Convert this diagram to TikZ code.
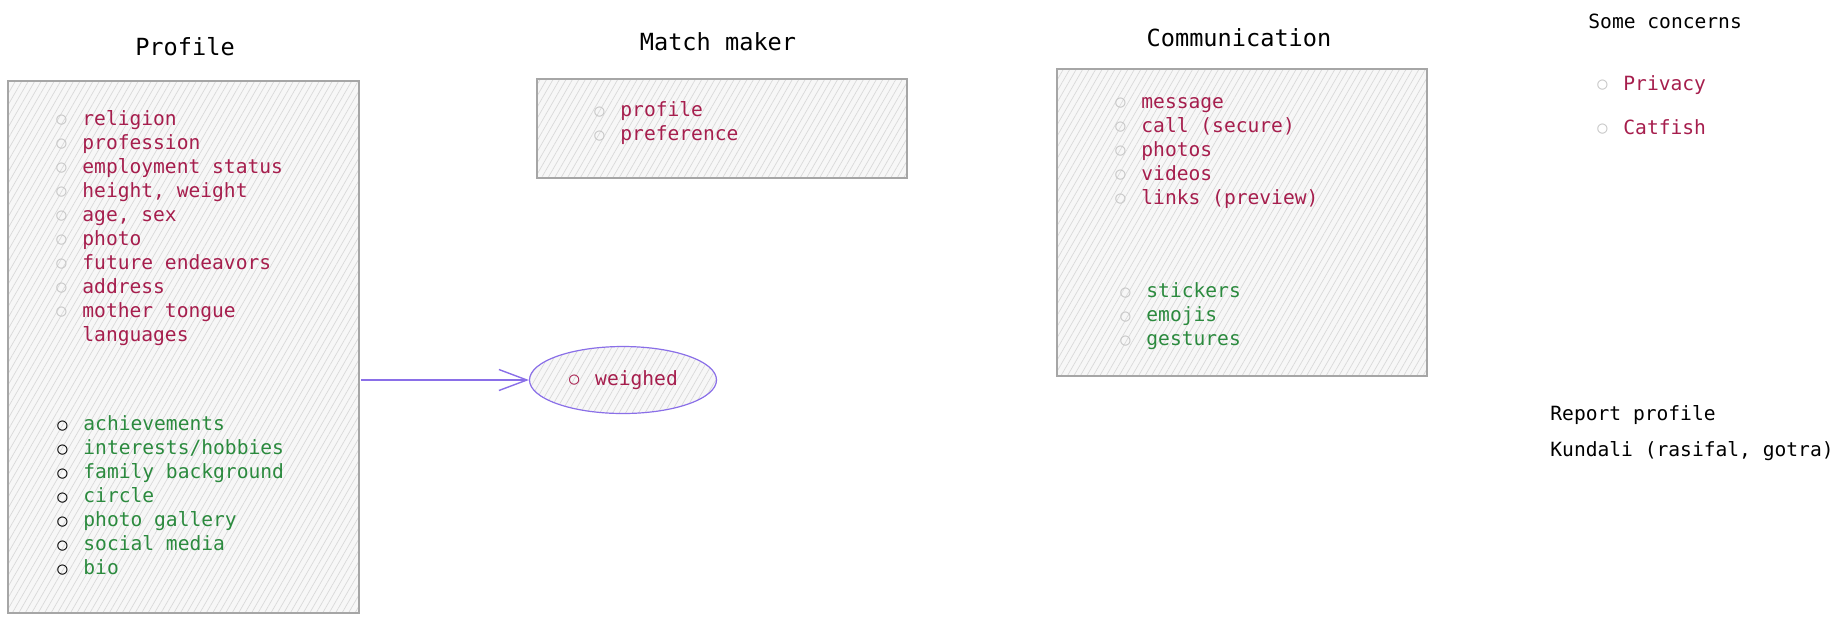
\documentclass[tikz,border=0pt]{standalone}
\usepackage{fontspec}
\setmonofont{DejaVu Sans Mono}
\usepackage{xcolor}
\usepackage{tikz}
\usetikzlibrary{shapes,arrows.meta,positioning,patterns.meta}

\definecolor{crimson}{HTML}{A61E4D}
\definecolor{leafgreen}{HTML}{2B8A3E}
\definecolor{sketchviolet}{HTML}{8A6FE8}

% hand-drawn list bullet
\newcommand{\dotbul}[1]{\makebox[6pt][c]{\raisebox{0.3pt}{\textcolor{#1}{\fontsize{8.5}{8.5}\selectfont ○}}}\hspace{7.5pt}}

\begin{document}
\begin{tikzpicture}[
  x=0.5pt, y=-0.5pt,
  box/.style={rectangle, draw=gray!70, line width=0.6pt, inner sep=0pt,
              preaction={fill=gray!6},
              pattern={Lines[angle=60,distance=2.8pt,line width=0.35pt]},
              pattern color=gray!30},
  title/.style={font=\ttfamily\fontsize{11.8}{14}\selectfont},
  items/.style={font=\ttfamily\fontsize{9.8}{12}\selectfont, align=left,
                inner sep=0pt, anchor=west},
  arr/.style={-{Straight Barb[length=14pt,width=10.5pt]}, draw=sketchviolet,
              line width=0.7pt}
]
\useasboundingbox (0,0) rectangle (1841,623);

\node[title] (profiletitle) at (185,47)  {Profile};
\node[title] (matchtitle)   at (718,42)  {Match maker};
\node[title] (commtitle)    at (1239,38) {Communication};

\node[box, minimum width=175.5pt, minimum height=266pt]  (profilebox) at (183.5,347) {};
\node[box, minimum width=185pt,   minimum height=49.5pt] (matchbox)   at (722,128.5) {};
\node[box, minimum width=185pt,   minimum height=153.5pt] (commbox)   at (1242,222.5) {};

\node[items, text=crimson] (profilebasics) at (55,228) {
  \dotbul{gray!45}religion\\
  \dotbul{gray!45}profession\\
  \dotbul{gray!45}employment status\\
  \dotbul{gray!45}height, weight\\
  \dotbul{gray!45}age, sex\\
  \dotbul{gray!45}photo\\
  \dotbul{gray!45}future endeavors\\
  \dotbul{gray!45}address\\
  \dotbul{gray!45}mother tongue\\
  \hspace*{13.5pt}languages
};
\node[items, text=leafgreen] (profileextras) at (56,495.5) {
  \dotbul{black}achievements\\
  \dotbul{black}interests/hobbies\\
  \dotbul{black}family background\\
  \dotbul{black}circle\\
  \dotbul{black}photo gallery\\
  \dotbul{black}social media\\
  \dotbul{black}bio
};

\node[items, text=crimson] (matchitems) at (593,123.5) {
  \dotbul{gray!45}profile\\
  \dotbul{gray!45}preference
};

\node[items, text=crimson] (commmedia) at (1114,153) {
  \dotbul{gray!45}message\\
  \dotbul{gray!45}call (secure)\\
  \dotbul{gray!45}photos\\
  \dotbul{gray!45}videos\\
  \dotbul{gray!45}links (preview)
};
\node[items, text=leafgreen] (commfun) at (1119,316.5) {
  \dotbul{gray!45}stickers\\
  \dotbul{gray!45}emojis\\
  \dotbul{gray!45}gestures
};

\node[items] (concerns) at (1588,21) {Some concerns};
\node[items, text=crimson] (privacy) at (1596,85)  {\dotbul{gray!45}Privacy};
\node[items, text=crimson] (catfish) at (1596,127) {\dotbul{gray!45}Catfish};

\node[items] (report)  at (1550,415) {Report profile};
\node[items] (kundali) at (1550,451) {Kundali (rasifal, gotra)};

\node[ellipse, draw=sketchviolet, line width=0.6pt, inner sep=0pt,
      minimum width=93.5pt, minimum height=33.5pt,
      preaction={fill=gray!6},
      pattern={Lines[angle=60,distance=2.8pt,line width=0.35pt]},
      pattern color=gray!30, text=crimson,
      font=\ttfamily\fontsize{9.8}{12}\selectfont] (weighed) at (623,380)
  {\dotbul{crimson}weighed};

\draw[arr] ([xshift=1pt]profilebox.east |- weighed.west) -- (weighed.west);
\end{tikzpicture}
\end{document}
